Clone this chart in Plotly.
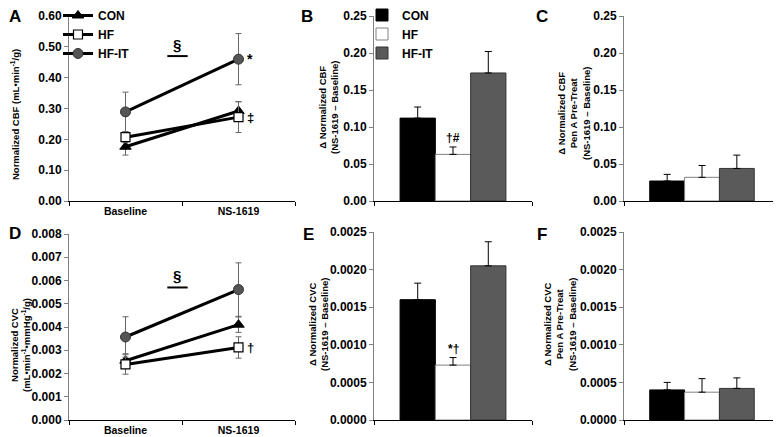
import plotly.graph_objects as go

# ---- data ----
groups = ["CON", "HF", "HF-IT"]
timepoints = ["Baseline", "NS-1619"]

# panel A: normalized CBF (mean, SE)
cbf_con = [0.176, 0.292]
cbf_con_se = [0.027, 0.030]
cbf_hf = [0.207, 0.272]
cbf_hf_se = [0.018, 0.050]
cbf_hfit = [0.289, 0.460]
cbf_hfit_se = [0.064, 0.083]

# panel D: normalized CVC (mean, SE)
cvc_con = [0.00255, 0.00410]
cvc_con_se = [0.00030, 0.00033]
cvc_hf = [0.00239, 0.00312]
cvc_hf_se = [0.00042, 0.00046]
cvc_hfit = [0.00357, 0.00561]
cvc_hfit_se = [0.00087, 0.00115]

# panels B/C/E/F: delta (NS-1619 - baseline), one value per group
d_cbf = [0.112, 0.063, 0.173]
d_cbf_se = [0.015, 0.010, 0.029]
d_cbf_pena = [0.027, 0.032, 0.044]
d_cbf_pena_se = [0.009, 0.016, 0.018]
d_cvc = [0.00160, 0.00073, 0.00205]
d_cvc_se = [0.00022, 0.00010, 0.00032]
d_cvc_pena = [0.00040, 0.00037, 0.00042]
d_cvc_pena_se = [0.00010, 0.00018, 0.00014]

# page is 781x437 but the body has an 8px margin, so the figure is 8px smaller
OFF = 8
W, H = 781 - OFF, 437 - OFF
FONT = "Liberation Sans, Arial, sans-serif"

LINE_STYLE = {
    "CON": dict(symbol="triangle-up", color="black", line=dict(color="black", width=1), size=10),
    "HF": dict(symbol="square", color="white", line=dict(color="black", width=1.2), size=9),
    "HF-IT": dict(symbol="circle", color="#555555", line=dict(color="#333333", width=1), size=10),
}
BAR_STYLE = {
    "CON": dict(color="black", line=dict(color="black", width=1)),
    "HF": dict(color="white", line=dict(color="#808080", width=1)),
    "HF-IT": dict(color="#5a5a5a", line=dict(color="#333333", width=1)),
}


def PX(p):
    return (p - OFF) / W


def PY(p):
    return 1 - (p - OFF) / H


fig = go.Figure()

# line panels
line_sets = [
    ("x", "y", [cbf_con, cbf_hf, cbf_hfit], [cbf_con_se, cbf_hf_se, cbf_hfit_se], True),
    ("x4", "y4", [cvc_con, cvc_hf, cvc_hfit], [cvc_con_se, cvc_hf_se, cvc_hfit_se], False),
]
for xa, ya, vals, ses, show in line_sets:
    for g, v, s in zip(groups, vals, ses):
        fig.add_trace(go.Scatter(
            x=timepoints, y=v, name=g, mode="lines+markers",
            line=dict(color="black", width=3),
            marker=LINE_STYLE[g],
            error_y=dict(type="data", array=s, color="#666666", thickness=1, width=3),
            xaxis=xa, yaxis=ya, showlegend=show, legend="legend",
        ))

# bar panels
bar_sets = [
    ("x2", "y2", d_cbf, d_cbf_se, True),
    ("x3", "y3", d_cbf_pena, d_cbf_pena_se, False),
    ("x5", "y5", d_cvc, d_cvc_se, False),
    ("x6", "y6", d_cvc_pena, d_cvc_pena_se, False),
]
for xa, ya, vals, ses, show in bar_sets:
    for g, v, s in zip(groups, vals, ses):
        fig.add_trace(go.Bar(
            x=["delta"], y=[v], name=g, marker=BAR_STYLE[g],
            error_y=dict(type="data", symmetric=False, array=[s], arrayminus=[0],
                         color="black", thickness=1, width=3.5),
            xaxis=xa, yaxis=ya, showlegend=show, legend="legend2",
        ))

tickfont = dict(family=FONT, size=12, color="black", weight="bold")
titlefont = dict(family=FONT, size=9.5, color="black", weight="bold")


def yax(top, bottom, rng, dtick, fmt, anchor):
    return dict(
        domain=[PY(bottom), PY(top)], range=rng, dtick=dtick, tickformat=fmt, anchor=anchor,
        showgrid=False, zeroline=False, showline=True, linecolor="#808080", linewidth=1,
        ticks="outside", ticklen=4, tickcolor="#808080", tickfont=tickfont,
        ticklabeloverflow="allow",
    )


def xax(left, right, anchor, rng, labels=True):
    return dict(
        domain=[PX(left), PX(right)], anchor=anchor, type="category", tickson="boundaries",
        range=rng, showgrid=False, zeroline=False, showline=True, linecolor="black", linewidth=1,
        ticks="outside", ticklen=4, tickcolor="black",
        showticklabels=labels, tickfont=dict(family=FONT, size=10.5, color="black", weight="bold"),
    )


fig.update_layout(
    width=W, height=H, margin=dict(l=0, r=0, t=0, b=0, autoexpand=False),
    paper_bgcolor="white", plot_bgcolor="white",
    font=dict(family=FONT, size=12, color="black", weight="bold"),
    barmode="group", bargap=0.33, bargroupgap=0,
    xaxis=xax(69, 295, "y", [-0.5, 1.5]),
    yaxis=yax(16, 201, [0, 0.6], 0.1, ".2f", "x"),
    xaxis2=xax(374, 532, "y2", [-0.5, 0.5], False),
    yaxis2=yax(16, 201, [0, 0.25], 0.05, ".2f", "x2"),
    xaxis3=xax(624, 780, "y3", [-0.5, 0.5], False),
    yaxis3=yax(16, 201, [0, 0.25], 0.05, ".2f", "x3"),
    xaxis4=xax(69, 295, "y4", [-0.5, 1.5]),
    yaxis4=yax(234, 420, [0, 0.008], 0.001, ".3f", "x4"),
    xaxis5=xax(374, 532, "y5", [-0.5, 0.5], False),
    yaxis5=yax(232, 420, [0, 0.0025], 0.0005, ".4f", "x5"),
    xaxis6=xax(624, 780, "y6", [-0.5, 0.5], False),
    yaxis6=yax(232, 420, [0, 0.0025], 0.0005, ".4f", "x6"),
    legend=dict(x=PX(58), y=PY(1), xanchor="left", yanchor="top", bgcolor="rgba(0,0,0,0)",
                font=dict(family=FONT, size=12, weight="bold"), itemwidth=30, tracegroupgap=0),
    legend2=dict(x=PX(362), y=PY(0.5), xanchor="left", yanchor="top", bgcolor="rgba(0,0,0,0)",
                 font=dict(family=FONT, size=12, weight="bold"), itemwidth=30, tracegroupgap=0),
)

# y-axis titles (rotated text placed beside each axis)
y_titles = [
    ("Normalized CBF (mL•min<sup>-1</sup>/g)", 15, 115),
    ("Δ Normalized CBF<br>(NS-1619 – Baseline)", 328, 108),
    ("Δ Normalized CBF<br>Pen A Pre-Treat<br>(NS-1619 – Baseline)", 574, 114),
    ("Normalized CVC<br>(mL•min<sup>-1</sup>•mmHg<sup>-1</sup>/g)", 20, 345),
    ("Δ Normalized CVC<br>(NS-1619 – Baseline)", 318, 325),
    ("Δ Normalized CVC<br>Pen A Pre-Treat<br>(NS-1619 – Baseline)", 560, 325),
]
for text, xp, yp in y_titles:
    fig.add_annotation(text=text, x=PX(xp), y=PY(yp), xref="paper", yref="paper",
                       textangle=-90, xanchor="center", yanchor="middle",
                       showarrow=False, font=titlefont)

# panel letters
for letter, xp, yp in [("A", 15, 17), ("B", 307, 17), ("C", 542, 17),
                       ("D", 15, 233), ("E", 308, 234), ("F", 542, 234)]:
    fig.add_annotation(text=letter, x=PX(xp), y=PY(yp), xref="paper", yref="paper",
                       xanchor="center", yanchor="middle",
                       showarrow=False, font=dict(family=FONT, size=17, color="black", weight="bold"))

# significance marks
mark_font = dict(family=FONT, size=13, color="black", weight="bold")
for xr, yr, ybar in [("x", "y", 0.47), ("x4", "y4", 0.0057)]:
    fig.add_annotation(text="§", x=0.46, y=ybar, xref=xr, yref=yr, yanchor="bottom", yshift=1,
                       showarrow=False, font=dict(family=FONT, size=15, color="black", weight="bold"))
    fig.add_shape(type="line", x0=0.37, x1=0.55, y0=ybar, y1=ybar, xref=xr, yref=yr,
                  line=dict(color="black", width=2))

fig.add_annotation(text="*", x=1, y=cbf_hfit[1], xref="x", yref="y", xanchor="left", xshift=6,
                   yanchor="middle", showarrow=False,
                   font=dict(family=FONT, size=14, color="black", weight="bold"))
fig.add_annotation(text="‡", x=1, y=cbf_hf[1], xref="x", yref="y", xanchor="left", xshift=6,
                   yanchor="middle", showarrow=False, font=mark_font)
fig.add_annotation(text="†", x=1, y=cvc_hf[1], xref="x4", yref="y4", xanchor="left", xshift=6,
                   yanchor="middle", showarrow=False, font=mark_font)
fig.add_annotation(text="†#", x=0, y=d_cbf[1] + d_cbf_se[1], xref="x2", yref="y2",
                   yanchor="bottom", showarrow=False, font=dict(mark_font, size=12))
fig.add_annotation(text="*†", x=0, y=d_cvc[1] + d_cvc_se[1], xref="x5", yref="y5",
                   yanchor="bottom", showarrow=False, font=dict(mark_font, size=12))

fig.write_html("out.html")
